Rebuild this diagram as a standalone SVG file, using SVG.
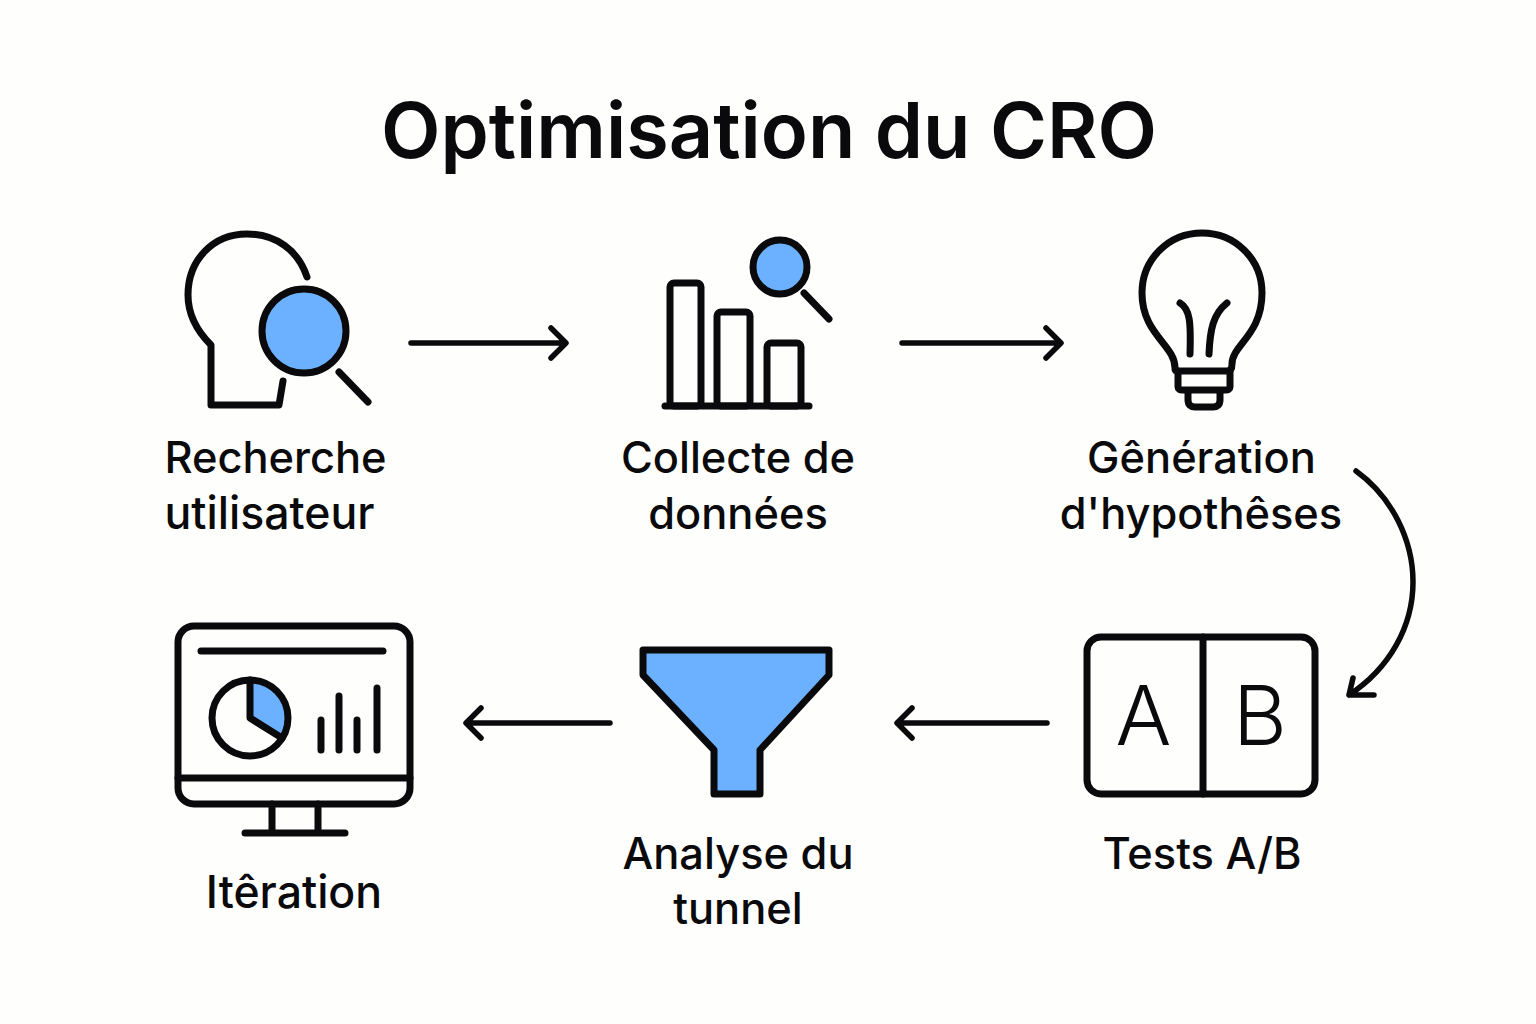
<svg xmlns="http://www.w3.org/2000/svg" width="1536" height="1024" viewBox="0 0 1536 1024">
<style>
.s{fill:none;stroke:#0a0a0c;stroke-width:7;stroke-linecap:round;stroke-linejoin:round}
.c{fill:none;stroke:#0a0a0c;stroke-width:5.5;stroke-linecap:round;stroke-linejoin:round}
.b{fill:#6cb1ff}
.t{font-family:Inter,"Noto Sans",sans-serif;font-size:43.4px;font-weight:500;fill:#0a0a0c;text-anchor:middle}
.w{font-size:44.6px}
.l{font-family:Inter,"Noto Sans",sans-serif;font-size:83px;font-weight:300;fill:#0a0a0c;text-anchor:middle}
</style>
<rect width="1536" height="1024" fill="#fefefc"/>
<text x="769" y="158" style="font-family:Inter,sans-serif;font-size:77.400px;font-weight:600;fill:#0a0a0c;text-anchor:middle">Optimisation du CRO</text>
<g id="connectors">
<path class="c" d="M411 343H564M551 328L566 343L551 358"/>
<path class="c" d="M902 343H1060M1046 328L1061 343L1046 358"/>
<path class="c" d="M1356 471C1392 497 1413 540 1413 582C1413 626 1390 668 1349 695M1349 695L1353 678M1349 695L1374 695"/>
<path class="c" d="M1047 723H898M912 708L897 723L912 738"/>
<path class="c" d="M610 723H467M481 708L466 723L481 738"/>
</g>
<g id="n1"><path class="s" d="M307 277C298 250 276 234 247 234C213 234 188 260 188 295C188 314 196 330 211 345V405H279L283 381"/><circle class="s b" cx="304" cy="331" r="42"/><path class="s" d="M339 372L368 402"/><text class="t" x="275.500" y="473">Recherche</text><text class="t w" x="269.500" y="529">utilisateur</text></g>
<g id="n2"><rect class="s" x="670" y="283" width="31" height="123" rx="4"/><rect class="s" x="717" y="312" width="33" height="94" rx="4"/><rect class="s" x="767" y="343" width="34" height="63" rx="4"/><path class="s" d="M665 406H809"/><circle class="s b" cx="780" cy="267" r="27"/><path class="s" d="M804 293L829 319"/><text class="t" x="738" y="473">Collecte de</text><text class="t" x="738" y="529">données</text></g>
<g id="n3"><path class="s" d="M1175 369C1176 345 1142 335 1142 293C1142 259 1169 233 1202 233C1235 233 1262 259 1262 293C1262 335 1232 345 1232 364C1232 369 1230 371 1227 371H1178C1176 371 1175 371 1175 369Z"/><path class="s" d="M1178 371V387C1178 389 1180 390 1182 390H1226C1228 390 1230 389 1230 387V371M1188 391V400C1188 405 1191 407 1195 407H1213C1217 407 1220 405 1220 400V391"/><path class="s" d="M1180 303C1190 309 1191 322 1190 354M1227 303C1213 314 1210 330 1209 354"/><text class="t" x="1201.500" y="473">Gênération</text><text class="t" x="1201" y="529">d'hypothêses</text></g>
<g id="n4"><rect class="s" x="1087" y="637" width="228" height="157" rx="14"/><path class="s" d="M1203 637V794"/><text class="l" x="1143.500" y="745">A</text><text class="l" x="1260" y="745">B</text><text class="t" x="1202" y="869">Tests A/B</text></g>
<g id="n5"><path class="s b" d="M643 650H829V675L760 750V794H714V750L643 675Z"/><text class="t" x="738" y="869">Analyse du</text><text class="t" x="738" y="924">tunnel</text></g>
<g id="n6"><rect class="s" x="178" y="626" width="232" height="178" rx="16"/><path class="s" d="M178 778H410M201 651H383M272 804V832M318 804V832M245 833H345M321 750V720M339 750V696M357 750V720M377 750V688"/><path class="b" d="M250 680A38 38 0 0 1 282 738L250 718Z"/><circle class="s" cx="250" cy="718" r="38"/><path class="s" d="M250 680V718L282 738"/><text class="t w" x="294" y="908">Itêration</text></g>
</svg>
